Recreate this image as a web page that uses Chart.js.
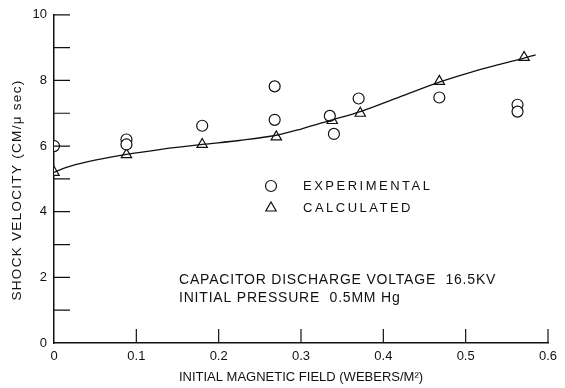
<!DOCTYPE html>
<html>
<head>
<meta charset="utf-8">
<script src="https://cdn.jsdelivr.net/npm/chart.js@4.4.1/dist/chart.umd.min.js"></script>
<style>
  body { margin: 0; background: #fff; }
  #wrap { width: 565px; height: 388px; }
</style>
</head>
<body>
<div id="wrap"><canvas id="chart" width="565" height="388"></canvas></div>
<script>
// experimental points (circles)
const expX = [0, 0.088, 0.088, 0.18, 0.268, 0.268, 0.335, 0.34, 0.37, 0.468, 0.563, 0.563];
const expY = [6.0, 6.2, 6.05, 6.62, 7.82, 6.8, 6.92, 6.37, 7.45, 7.48, 7.26, 7.05];

// calculated points (triangles)
const calcX = [0, 0.088, 0.18, 0.27, 0.338, 0.372, 0.468, 0.571];
const calcY = [5.2, 5.74, 6.05, 6.28, 6.78, 7.0, 7.97, 8.7];

// hand drawn curve through the calculated values
const curveX = [0, 0.015, 0.04, 0.088, 0.13, 0.18, 0.225, 0.27, 0.3, 0.338, 0.372, 0.42, 0.468, 0.505, 0.54, 0.571, 0.585];
const curveY = [5.2, 5.35, 5.52, 5.75, 5.9, 6.05, 6.17, 6.33, 6.52, 6.8, 7.05, 7.5, 7.95, 8.24, 8.48, 8.68, 8.78];

const xTicks = [0, 0.1, 0.2, 0.3, 0.4, 0.5, 0.6];
const yTicks = [0, 1, 2, 3, 4, 5, 6, 7, 8, 9, 10];

const ink = '#111';
const font = '"Liberation Sans", Arial, sans-serif';

function pts(xs, ys) {
  return xs.map((x, i) => ({ x: x, y: ys[i] }));
}

// inward tick marks, legend and notes
const extras = {
  id: 'extras',
  afterDraw(chart) {
    const ctx = chart.ctx;
    const xs = chart.scales.x;
    const ys = chart.scales.y;
    ctx.save();
    ctx.strokeStyle = ink;
    ctx.lineWidth = 1.2;
    ctx.beginPath();
    yTicks.forEach(v => {
      if (v === 0) return;
      const py = ys.getPixelForValue(v);
      ctx.moveTo(xs.left, py);
      ctx.lineTo(xs.left + 16, py);
    });
    xTicks.forEach(v => {
      if (v === 0) return;
      const px = xs.getPixelForValue(v);
      ctx.moveTo(px, ys.bottom);
      ctx.lineTo(px, ys.bottom - 14);
    });
    ctx.stroke();

    // legend
    ctx.fillStyle = '#fff';
    Chart.helpers.drawPoint(ctx, { pointStyle: 'circle', radius: 5.5, rotation: 0, borderWidth: 1.2 }, 271, 186);
    Chart.helpers.drawPoint(ctx, { pointStyle: 'triangle', radius: 6, rotation: 0, borderWidth: 1.2 }, 271, 208);

    ctx.fillStyle = ink;
    ctx.textBaseline = 'middle';
    ctx.font = '13px ' + font;
    ctx.letterSpacing = '2.5px';
    ctx.fillText('EXPERIMENTAL', 303, 186);
    ctx.fillText('CALCULATED', 303, 208);

    // notes
    ctx.font = '14px ' + font;
    ctx.letterSpacing = '0.8px';
    ctx.fillText('CAPACITOR DISCHARGE VOLTAGE  16.5KV', 179, 280);
    ctx.fillText('INITIAL PRESSURE  0.5MM Hg', 179, 298);

    // axis titles
    ctx.font = '13px ' + font;
    ctx.letterSpacing = '0px';
    ctx.textAlign = 'center';
    ctx.fillText('INITIAL MAGNETIC FIELD (WEBERS/M\u00B2)', 301, 377);
    ctx.font = '13.5px ' + font;
    ctx.letterSpacing = '1.3px';
    ctx.translate(17, 190);
    ctx.rotate(-Math.PI / 2);
    ctx.fillText('SHOCK VELOCITY (CM/\u03BC sec)', 0, 0);
    ctx.restore();
  }
};

const ctx = document.getElementById('chart').getContext('2d');
new Chart(ctx, {
  type: 'scatter',
  data: {
    datasets: [
      {
        label: 'Curve',
        type: 'line',
        data: pts(curveX, curveY),
        borderColor: ink,
        borderWidth: 1.3,
        pointRadius: 0,
        cubicInterpolationMode: 'monotone',
        fill: false
      },
      {
        label: 'EXPERIMENTAL',
        data: pts(expX, expY),
        pointStyle: 'circle',
        pointRadius: 5.5,
        backgroundColor: '#fff',
        borderColor: ink,
        borderWidth: 1.2
      },
      {
        label: 'CALCULATED',
        data: pts(calcX, calcY),
        pointStyle: 'triangle',
        pointRadius: 6,
        backgroundColor: '#fff',
        borderColor: ink,
        borderWidth: 1.2
      }
    ]
  },
  options: {
    responsive: false,
    animation: false,
    layout: { padding: { top: 14, right: 17, left: 0, bottom: 0 } },
    plugins: {
      legend: { display: false },
      tooltip: { enabled: false }
    },
    scales: {
      x: {
        type: 'linear',
        min: 0,
        max: 0.6,
        afterFit: s => { s.height = 45; },
        afterBuildTicks: s => { s.ticks = xTicks.map(v => ({ value: v })); },
        grid: { display: false, drawTicks: false },
        border: { display: true, color: ink, width: 1.5 },
        ticks: {
          color: ink,
          padding: 6,
          font: { family: font, size: 13 },
          callback: v => v === 0 ? '0' : v.toFixed(1)
        }
      },
      y: {
        type: 'linear',
        min: 0,
        max: 10,
        afterFit: s => { s.width = 54; },
        afterBuildTicks: s => { s.ticks = yTicks.map(v => ({ value: v })); },
        grid: { display: false, drawTicks: false },
        border: { display: true, color: ink, width: 1.5 },
        ticks: {
          color: ink,
          padding: 7,
          font: { family: font, size: 13 },
          callback: v => v % 2 === 0 ? String(v) : ''
        }
      }
    }
  },
  plugins: [extras]
});
</script>
</body>
</html>
